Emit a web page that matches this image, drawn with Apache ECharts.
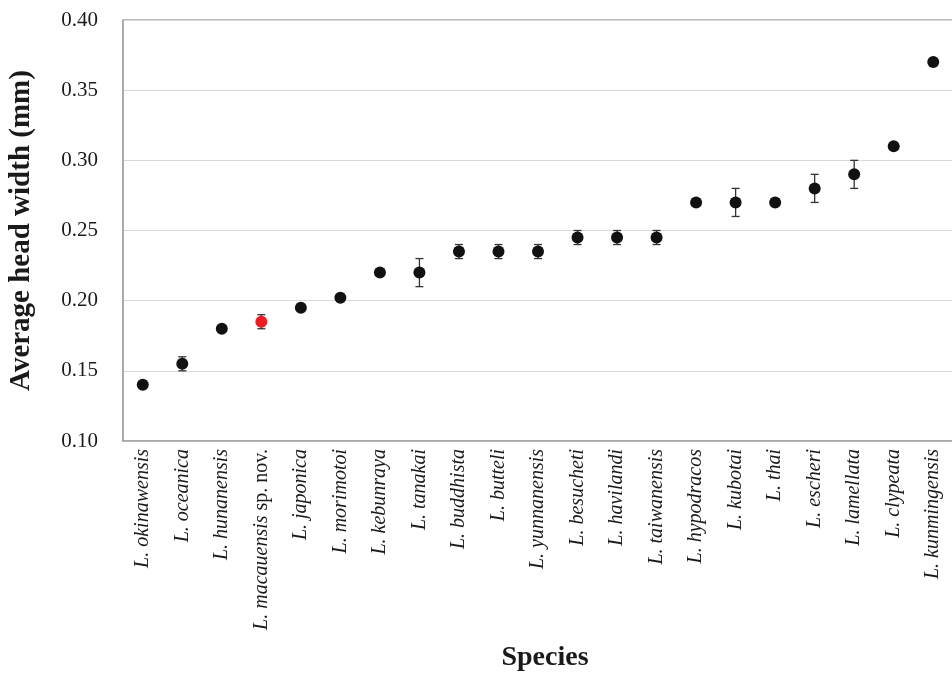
<!DOCTYPE html>
<html><head><meta charset="utf-8">
<script src="https://cdn.jsdelivr.net/npm/echarts@6/dist/echarts.min.js"></script>
<style>html,body{margin:0;padding:0;background:#fff}#c{width:952px;height:674px}</style>
</head><body><div id="c"></div>
<script>
const species = ['okinawensis','oceanica','hunanensis','macauensis','japonica','morimotoi','kebunraya','tanakai','buddhista','butteli','yunnanensis','besucheti','havilandi','taiwanensis','hypodracos','kubotai','thai','escheri','lamellata','clypeata','kunmingensis'];
const suffixes = ['','','',' sp. nov.','','','','','','','','','','','','','','','','',''];
const means = [0.14,0.155,0.18,0.185,0.195,0.202,0.22,0.22,0.235,0.235,0.235,0.245,0.245,0.245,0.27,0.27,0.27,0.28,0.29,0.31,0.37];
const errs = [0,0.005,0,0.005,0,0,0,0.01,0.005,0.005,0.005,0.005,0.005,0.005,0,0.01,0,0.01,0.01,0,0];
const highlightIndex = 3;
const yTicks = [0.10,0.15,0.20,0.25,0.30,0.35,0.40];

const cats = species.map((s,i)=>'L. ' + s + '|' + suffixes[i]);
const chart = echarts.init(document.getElementById('c'));
const serif = 'Liberation Serif';
chart.setOption({
  animation:false,
  grid:{left:123,right:-1,top:20,bottom:233,containLabel:false,outerBoundsMode:'none',show:true,borderColor:'#a6a6a6',borderWidth:1.5},
  xAxis:{type:'category',data:cats,
    axisLine:{show:true,lineStyle:{color:'#a6a6a6',width:1.5}},
    axisTick:{show:false},
    axisLabel:{interval:0,rotate:90,margin:8,
      formatter:v=>{const p=v.split('|');return '{i|'+p[0]+'}'+(p[1]?'{n|'+p[1]+'}':'');},
      rich:{i:{fontFamily:serif,fontStyle:'italic',fontSize:20,color:'#1a1a1a'},
            n:{fontFamily:serif,fontSize:20,color:'#1a1a1a'}}},
    name:'Species',nameLocation:'middle',nameGap:203,
    nameTextStyle:{fontFamily:serif,fontWeight:'bold',fontSize:28,color:'#1a1a1a',padding:[0,0,0,14]}
  },
  yAxis:{type:'value',min:0.10,max:0.40,interval:0.05,
    axisLine:{show:true,lineStyle:{color:'#a6a6a6',width:1.5}},
    axisTick:{show:false},
    splitLine:{lineStyle:{color:'#d9d9d9',width:1.2}},
    axisLabel:{formatter:v=>v.toFixed(2),fontFamily:serif,fontSize:21,color:'#1a1a1a',margin:25},
    name:'Average head width (mm)',nameLocation:'middle',nameGap:87,
    nameTextStyle:{fontFamily:serif,fontWeight:'bold',fontSize:29,color:'#1a1a1a'}
  },
  series:[
    {type:'custom',z:1,
     data:means.map((m,i)=>[i,m-errs[i],m+errs[i]]),
     renderItem:(params,api)=>{
       const lo=api.coord([api.value(0),api.value(1)]);
       const hi=api.coord([api.value(0),api.value(2)]);
       if(Math.abs(lo[1]-hi[1])<0.5) return null;
       const w=4, st={stroke:'#333',lineWidth:1.3};
       return {type:'group',children:[
         {type:'line',shape:{x1:lo[0],y1:lo[1],x2:hi[0],y2:hi[1]},style:st},
         {type:'line',shape:{x1:lo[0]-w,y1:lo[1],x2:lo[0]+w,y2:lo[1]},style:st},
         {type:'line',shape:{x1:hi[0]-w,y1:hi[1],x2:hi[0]+w,y2:hi[1]},style:st}
       ]};
     }},
    {type:'scatter',z:2,symbolSize:12,
     data:means.map((m,i)=>({value:[i,m],itemStyle:{opacity:1,color:i===highlightIndex?'#ee1c25':'#111'}}))}
  ]
});
</script></body></html>
